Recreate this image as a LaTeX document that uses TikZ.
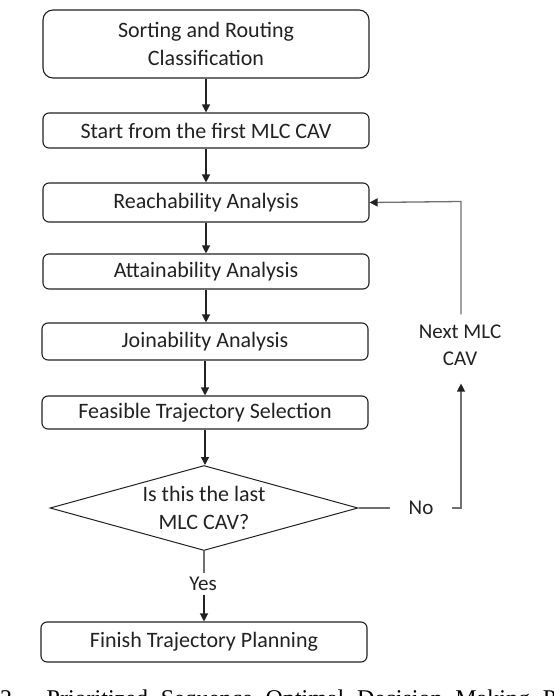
\documentclass[tikz,border=0pt]{standalone}
\usepackage{fontspec}
\setmainfont{Carlito}
\newfontfamily\capfont{Liberation Serif}
\usetikzlibrary{shapes.geometric,arrows.meta}
\definecolor{ln}{HTML}{222222}
\definecolor{lp}{HTML}{707070}
\begin{document}
\begin{tikzpicture}[x=1pt,y=-1pt, font=\fontsize{22}{28}\selectfont,
  box/.style={draw=ln, line width=1.1pt, rounded corners=6pt, minimum width=326pt, inner sep=0pt, align=center, text=ln},
  arr/.style={draw=ln, line width=1.2pt, -{Triangle[length=8pt,width=8pt]}},
  loopline/.style={draw=lp, line width=1.3pt},
  lbl/.style={text=ln, align=center, font=\fontsize{21}{27}\selectfont}]
\useasboundingbox (0,0) rectangle (554,696);
\fill[white] (0,0) rectangle (554,696);
\node[box, rounded corners=10pt, minimum height=68pt] (b1) at (206,44) {Sorting and Routing\\Classification};
\node[box, minimum height=35pt] (b2) at (206,130.5) {Start from the first MLC CAV};
\node[box, minimum height=39pt] (b3) at (206,202.5) {Reachability Analysis};
\node[box, minimum height=35pt] (b4) at (206,271.5) {Attainability Analysis};
\node[box, minimum height=37pt] (b5) at (205,341.5) {Joinability Analysis};
\node[box, minimum height=33pt] (b6) at (205,412.5) {Feasible Trajectory Selection};
\node[draw=ln, line width=1pt, diamond, aspect=3.6, inner sep=0pt, minimum width=308pt, minimum height=85pt, align=center, text=ln] (dia) at (204,508) {Is this the last\\MLC CAV?};
\node[box, minimum height=40pt] (b7) at (204,642) {Finish Trajectory Planning};
\node[lbl, inner sep=0pt] (yes) at (203,584) {Yes};
\node[lbl, inner xsep=18pt, inner ysep=0pt] (no) at (421,508) {No};
\node[lbl, inner sep=0pt] (nx) at (460,345) {Next MLC\\CAV};
\coordinate (c1) at (461,508);
\coordinate (c2) at (461,201.5);

\draw[arr] (b1.south) -- (b1.south |- b2.north);
\draw[arr] (b2.south) -- (b2.south |- b3.north);
\draw[arr] (b3.south) -- (b3.south |- b4.north);
\draw[arr] (b4.south) -- (b4.south |- b5.north);
\draw[arr] (b5.south) -- (b5.south |- b6.north);
\draw[arr] (b6.south) -- (b6.south |- dia.north);
\draw[line width=1.2pt, draw=lp] (dia.south) -- ([yshift=4pt]dia.south |- yes.north);
\draw[arr] ([yshift=-4pt]dia.south |- yes.south) -- (dia.south |- b7.north);

\draw[loopline] (dia.east) -- (no.west);
\draw[loopline, -{Triangle[length=8pt,width=8pt,color=ln]}, shorten >=18pt] (no.east) -- (c1) -- (nx.south -| c1);
\draw[loopline, -{Triangle[length=8pt,width=8pt,color=ln]}, shorten <=10pt] (nx.north -| c1) -- (c2) -- (b3.east);

\node[anchor=base west, inner sep=0pt, font=\capfont\fontsize{24}{28}\selectfont] (cap) at (0,706) {\makebox[556pt][s]{2. Prioritized Sequence Optimal Decision Making P}};
\end{tikzpicture}
\end{document}
